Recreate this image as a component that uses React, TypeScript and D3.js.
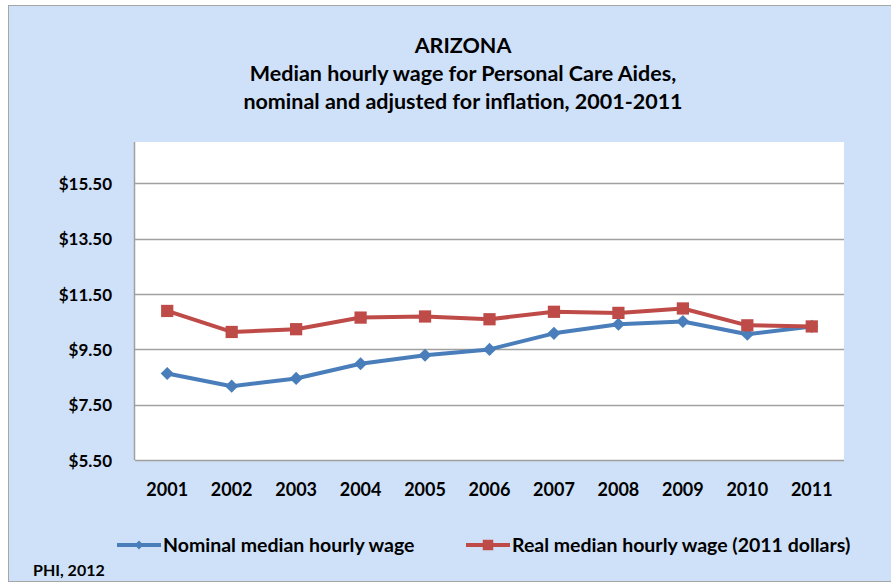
import React, { useEffect, useRef } from 'react';
import * as d3 from 'd3';

const years = ['2001', '2002', '2003', '2004', '2005', '2006', '2007', '2008', '2009', '2010', '2011'];
const nominalWage = [8.63, 8.17, 8.45, 8.98, 9.29, 9.5, 10.08, 10.41, 10.51, 10.05, 10.33];
const realWage = [10.89, 10.13, 10.23, 10.65, 10.69, 10.59, 10.86, 10.82, 10.98, 10.37, 10.33];
const yTicks = [5.5, 7.5, 9.5, 11.5, 13.5, 15.5];
const titleLines = ['ARIZONA', 'Median hourly wage for Personal Care Aides,', 'nominal and adjusted for inflation, 2001-2011'];

const BLUE = '#4a7ebb';
const RED = '#be4b48';
const FONT = 'Lato, Calibri, sans-serif';

const App = () => {
    const ref = useRef<SVGSVGElement>(null);

    useEffect(() => {
        const svg = d3.select(ref.current);
        svg.selectAll('*').remove();

        const plot = { left: 135, right: 844, top: 142, bottom: 460 };

        // chart background
        svg.append('rect')
            .attr('x', 8.5).attr('y', 5.5)
            .attr('width', 920).attr('height', 576)
            .attr('fill', '#cfe1f8')
            .attr('stroke', '#a6a6a6');

        // title
        svg.append('g').selectAll('text')
            .data(titleLines)
            .enter().append('text')
            .attr('x', 463)
            .attr('y', (d, i) => 53 + i * 28)
            .attr('text-anchor', 'middle')
            .attr('font-family', FONT)
            .attr('font-weight', 'bold')
            .attr('font-size', 21.5)
            .attr('fill', '#000')
            .text(d => d);

        const x = d3.scaleBand()
            .domain(years)
            .range([plot.left, plot.right]);

        const y = d3.scaleLinear()
            .domain([5.5, 17])
            .range([plot.bottom, plot.top]);

        svg.append('rect')
            .attr('x', plot.left).attr('y', plot.top)
            .attr('width', plot.right - plot.left)
            .attr('height', plot.bottom - plot.top)
            .attr('fill', '#fff');

        // gridlines
        svg.append('g').selectAll('line')
            .data(yTicks)
            .enter().append('line')
            .attr('x1', plot.left).attr('x2', plot.right)
            .attr('y1', d => Math.round(y(d)) + 0.5)
            .attr('y2', d => Math.round(y(d)) + 0.5)
            .attr('stroke', '#a0a0a0')
            .attr('stroke-width', 1.5);

        // left axis line
        svg.append('line')
            .attr('x1', plot.left - 0.5).attr('x2', plot.left - 0.5)
            .attr('y1', plot.top).attr('y2', plot.bottom)
            .attr('stroke', '#a0a0a0')
            .attr('stroke-width', 1.5);

        // y tick labels
        svg.append('g').selectAll('text')
            .data(yTicks)
            .enter().append('text')
            .attr('x', 112)
            .attr('y', d => y(d) + 6.5)
            .attr('text-anchor', 'end')
            .attr('font-family', FONT)
            .attr('font-weight', 'bold')
            .attr('font-size', 17)
            .text(d => '$' + d3.format('.2f')(d));

        // x tick labels
        svg.append('g').selectAll('text')
            .data(years)
            .enter().append('text')
            .attr('x', d => x(d)! + x.bandwidth() / 2)
            .attr('y', 496)
            .attr('text-anchor', 'middle')
            .attr('font-family', FONT)
            .attr('font-weight', 'bold')
            .attr('font-size', 18)
            .text(d => d);

        const line = d3.line<number>()
            .x((d, i) => x(years[i])! + x.bandwidth() / 2)
            .y(d => y(d));

        const diamond = d3.symbol().type(d3.symbolDiamond2).size(110);
        const square = d3.symbol().type(d3.symbolSquare).size(150);

        // nominal series
        svg.append('path')
            .datum(nominalWage)
            .attr('fill', 'none')
            .attr('stroke', BLUE)
            .attr('stroke-width', 4)
            .attr('stroke-linejoin', 'round')
            .attr('d', line);

        svg.append('g').selectAll('path')
            .data(nominalWage)
            .enter().append('path')
            .attr('transform', (d, i) => `translate(${x(years[i])! + x.bandwidth() / 2},${y(d)})`)
            .attr('d', diamond)
            .attr('fill', BLUE);

        // real series
        svg.append('path')
            .datum(realWage)
            .attr('fill', 'none')
            .attr('stroke', RED)
            .attr('stroke-width', 4)
            .attr('stroke-linejoin', 'round')
            .attr('d', line);

        svg.append('g').selectAll('path')
            .data(realWage)
            .enter().append('path')
            .attr('transform', (d, i) => `translate(${x(years[i])! + x.bandwidth() / 2},${y(d)})`)
            .attr('d', square)
            .attr('fill', RED);

        // legend
        const legend = [
            { label: 'Nominal median hourly wage', color: BLUE, sym: d3.symbol().type(d3.symbolDiamond2).size(50), x: 117 },
            { label: 'Real median hourly wage (2011 dollars)', color: RED, sym: d3.symbol().type(d3.symbolSquare).size(110), x: 466 },
        ];
        const lg = svg.append('g').selectAll('g')
            .data(legend)
            .enter().append('g')
            .attr('transform', d => `translate(${d.x},545)`);
        lg.append('line')
            .attr('x1', 0).attr('x2', 44)
            .attr('stroke', d => d.color)
            .attr('stroke-width', 4);
        lg.append('path')
            .attr('transform', 'translate(22,0)')
            .attr('d', d => d.sym())
            .attr('fill', d => d.color);
        lg.append('text')
            .attr('x', 46)
            .attr('y', 7)
            .attr('font-family', FONT)
            .attr('font-weight', 'bold')
            .attr('font-size', 19.5)
            .text(d => d.label);

        svg.append('text')
            .attr('x', 33)
            .attr('y', 576)
            .attr('font-family', FONT)
            .attr('font-weight', 'bold')
            .attr('font-size', 16)
            .text('PHI, 2012');
    }, []);

    return (
        <svg ref={ref} width={891} height={583}
             style={{ position: 'absolute', left: 0, top: 0, display: 'block' }} />
    );
};

export default App;
